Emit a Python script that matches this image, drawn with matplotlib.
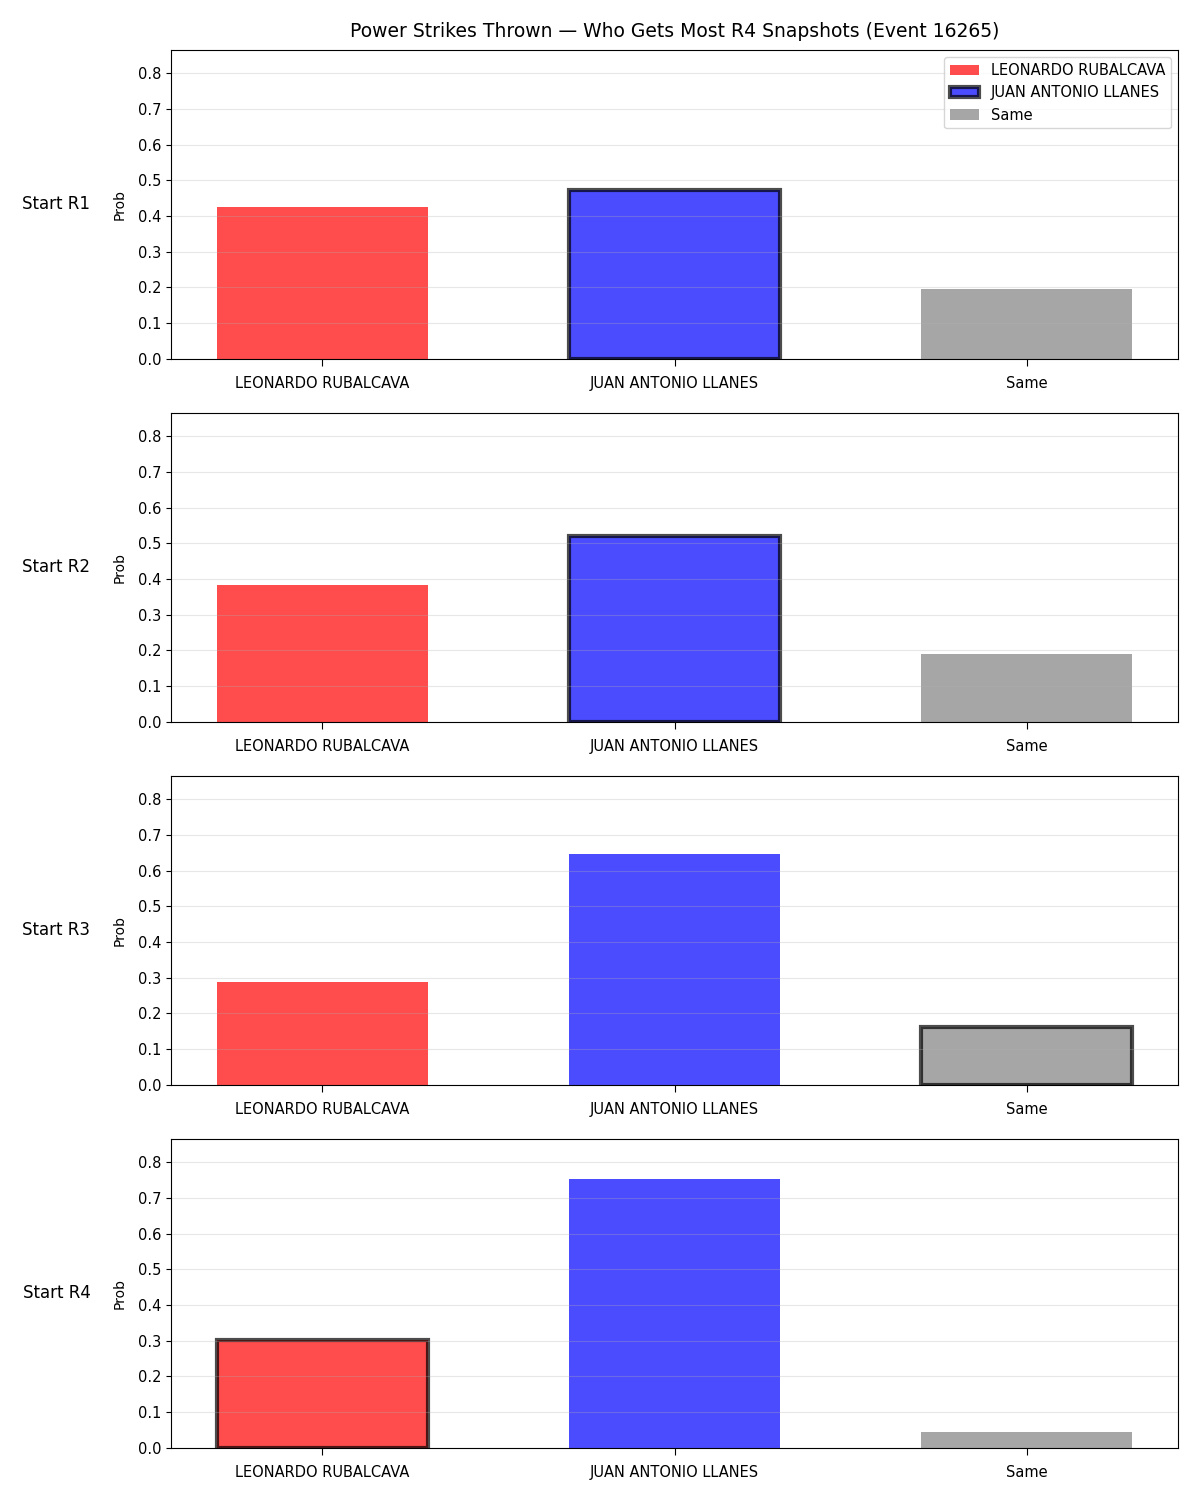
import matplotlib
matplotlib.use("Agg")
import matplotlib.pyplot as plt
import numpy as np

# Данные: вероятности по раундам старта
categories = ["LEONARDO RUBALCAVA", "JUAN ANTONIO LLANES", "Same"]
rounds = ["Start R1", "Start R2", "Start R3", "Start R4"]
probs_r1 = [0.425, 0.473, 0.196]
probs_r2 = [0.383, 0.520, 0.190]
probs_r3 = [0.288, 0.646, 0.162]
probs_r4 = [0.302, 0.752, 0.045]
highlight = [1, 1, 2, 0]  # какой столбец обведён в каждом раунде

colors = ["red", "blue", "gray"]
all_probs = [probs_r1, probs_r2, probs_r3, probs_r4]
ymax = max(max(p) for p in all_probs) * 1.15

fig, axes = plt.subplots(4, 1, figsize=(12, 15), dpi=100)
fig.subplots_adjust(left=0.1425, right=0.9817, top=0.9667, bottom=0.0347, hspace=0.175)

x = np.arange(len(categories))
for i, ax in enumerate(axes):
    probs = all_probs[i]
    for j in range(len(categories)):
        hl = j == highlight[i]
        ax.bar(x[j], probs[j], width=0.6, color=colors[j], alpha=0.7,
               edgecolor="black" if hl else "none", linewidth=3 if hl else 0,
               label=categories[j])
    ax.set_xticks(x)
    ax.set_xticklabels(categories)
    ax.set_ylim(0, ymax)
    ax.set_yticks(np.arange(0, 0.81, 0.1))
    ax.tick_params(axis="x", labelsize=10.5, pad=7, length=5)
    ax.tick_params(axis="y", labelsize=10.5)
    ax.set_ylabel("Prob", labelpad=8)
    ax.grid(axis="y", alpha=0.3)
    ax.text(-0.08, 0.5, rounds[i], transform=ax.transAxes, ha="right", va="center", fontsize=12)
    if i == 0:
        ax.set_title("Power Strikes Thrown — Who Gets Most R4 Snapshots (Event 16265)",
                     fontsize=13.5, pad=9)
        ax.legend(loc="upper right", fontsize=10.5)

plt.savefig("out.png", dpi=100)
